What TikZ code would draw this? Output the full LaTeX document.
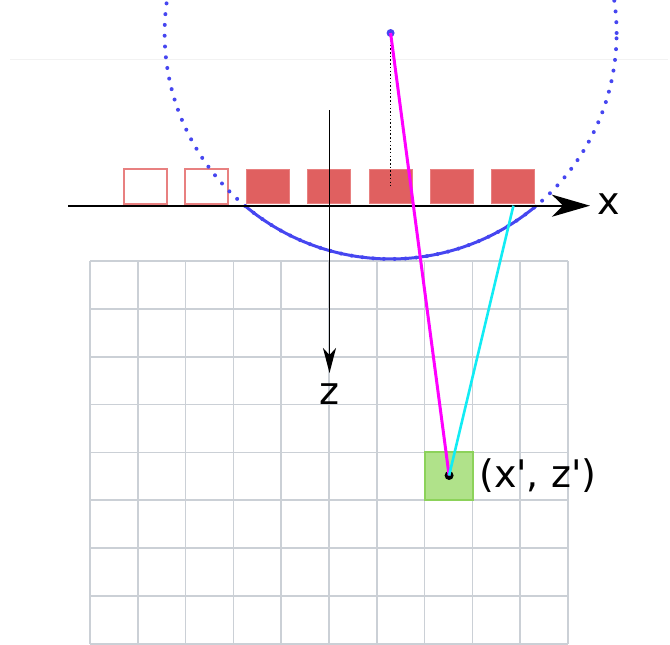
\documentclass[tikz,border=0pt]{standalone}
\usepackage{fontspec}
\setmainfont{DejaVu Sans}
\usetikzlibrary{arrows.meta}

\definecolor{sqred}{HTML}{E06060}
\definecolor{sqedge}{HTML}{E88080}
\definecolor{gridgray}{HTML}{CBD0D6}
\definecolor{circblue}{HTML}{4646F0}
\definecolor{cellgreen}{HTML}{B0E28A}
\definecolor{celledge}{HTML}{8CD25A}
\definecolor{raycyan}{HTML}{12ECF4}
\definecolor{raymag}{HTML}{FF00FF}

\tikzset{
  xaxis/.style={line width=2.4pt,-{Stealth[length=38pt,width=22pt,inset=11pt]}},
  zaxis/.style={line width=1.8pt,-{Stealth[length=25pt,width=13pt,inset=7pt]}},
  gridline/.style={gridgray,line width=1.7pt},
  emptysq/.style={draw=sqedge,line width=2pt,fill=white},
  fullsq/.style={draw=sqedge,line width=1pt,fill=sqred},
  dotcirc/.style={circblue,line width=4pt,line cap=round,dash pattern=on 0pt off 10.8pt},
  lbl/.style={font=\fontsize{38}{42}\selectfont,inner sep=0pt}
}

\begin{document}
\begin{tikzpicture}[x=1pt,y=-1pt]
  \useasboundingbox (0,0) rectangle (670,645);
  \draw[gray!10,line width=0.8pt] (10,59) -- (668,59);

  % sampling grid
  \draw[gridline,shift={(90,261)}] (0,0) grid[xstep=47.8pt,ystep=47.85pt] (478,383);
  \node[draw=celledge,line width=2pt,fill=cellgreen,minimum width=47.8pt,
        minimum height=47.85pt,inner sep=0pt] (cell) at (449.1,476.2) {};

  % detector elements
  \foreach \cx in {145,206.4} {
    \draw[emptysq] (\cx-21.5,169.3) rectangle (\cx+21.5,203.7);
  }
  \foreach \cx in {267.8,329.2,390.6,452,513.4} {
    \draw[fullsq] (\cx-21.5,169.3) rectangle (\cx+21.5,203.7);
  }

  % source and its circle
  \node[circle,fill=circblue,inner sep=0pt,minimum size=8pt] (src) at (390.6,33) {};
  \draw[dotcirc] (src.center) circle (226pt);
  \draw[circblue,line width=3pt] ([shift={(229.9:226pt)}]src.center)
    arc[start angle=229.9,end angle=310.1,radius=226pt];
  \coordinate (foot) at (390.6,186);
  \draw[black,line width=1.5pt,dash pattern=on 1.5pt off 2.2pt] (src) -- (foot);

  % axes
  \coordinate (xl) at (68,205.7);
  \coordinate (xr) at (590,205.7);
  \coordinate (zt) at (329.5,110);
  \coordinate (zb) at (329.5,373);
  \draw[xaxis] (xl) -- (xr);
  \draw[zaxis] (zt) -- (zb);
  \node[lbl] (xlab) at (609,204) {x};
  \node[lbl] (zlab) at (329.5,394) {z};

  % rays to the pixel
  \node[circle,fill=black,inner sep=0pt,minimum size=9pt] (pix) at (449.1,475.5) {};
  \coordinate (det) at (513.4,205.7);
  \draw[raymag,line width=3pt] (src.center) -- (pix.center);
  \draw[raycyan,line width=2.6pt] (det) -- (pix.center);
  \node[lbl,anchor=west] (plab) at (479,476) {(x\textquotesingle, z\textquotesingle)};
\end{tikzpicture}
\end{document}
